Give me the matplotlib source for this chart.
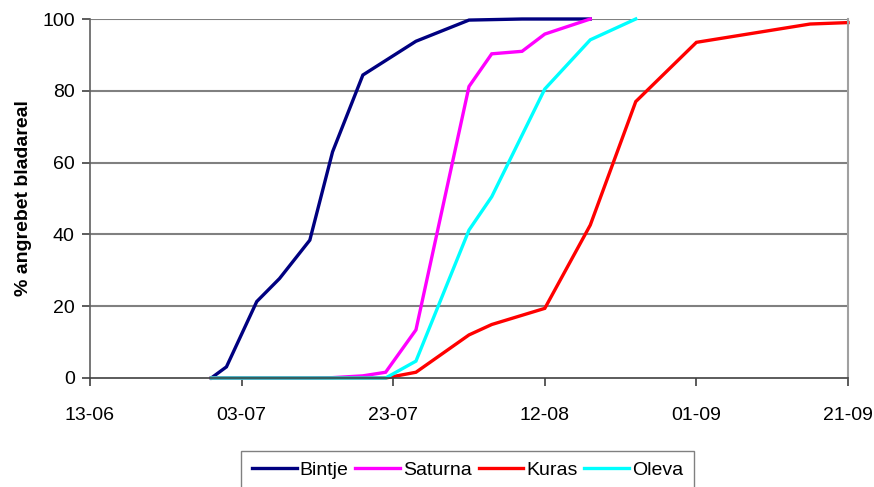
import matplotlib
matplotlib.use("Agg")
import matplotlib.pyplot as plt
import matplotlib.dates as mdates
import pandas as pd

plt.rcParams['font.family'] = ['Liberation Sans', 'DejaVu Sans']

bintje_dates = ['2000-06-29', '2000-07-01', '2000-07-05', '2000-07-08', '2000-07-12',
                '2000-07-15', '2000-07-19', '2000-07-26', '2000-08-02', '2000-08-09', '2000-08-18']
bintje_vals = [0, 3.1, 21.3, 27.7, 38.4, 63, 84.4, 93.8, 99.7, 100, 100]

saturna_dates = ['2000-06-29', '2000-07-12', '2000-07-15', '2000-07-19', '2000-07-22', '2000-07-26',
                 '2000-08-02', '2000-08-05', '2000-08-09', '2000-08-12', '2000-08-18']
saturna_vals = [0, 0, 0.1, 0.6, 1.6, 13.4, 81.2, 90.3, 91.0, 95.8, 100]

kuras_dates = ['2000-06-29', '2000-07-22', '2000-07-26', '2000-08-02', '2000-08-05', '2000-08-12',
               '2000-08-18', '2000-08-24', '2000-09-01', '2000-09-16', '2000-09-21']
kuras_vals = [0, 0, 1.6, 12.0, 14.9, 19.4, 42.6, 77.0, 93.5, 98.6, 99.0]

oleva_dates = ['2000-06-29', '2000-07-22', '2000-07-26', '2000-08-02', '2000-08-05', '2000-08-12',
               '2000-08-18', '2000-08-24']
oleva_vals = [0, 0, 4.7, 41.2, 50.5, 80.5, 94.2, 100]

tick_dates = ['2000-06-13', '2000-07-03', '2000-07-23', '2000-08-12', '2000-09-01', '2000-09-21']
y_ticks = [0, 20, 40, 60, 80, 100]

series = [
    ('Bintje', bintje_dates, bintje_vals, '#000080'),
    ('Saturna', saturna_dates, saturna_vals, '#FF00FF'),
    ('Kuras', kuras_dates, kuras_vals, '#FF0000'),
    ('Oleva', oleva_dates, oleva_vals, '#00FFFF'),
]

fig = plt.figure(figsize=(8.74, 4.87), dpi=100)
ax = fig.add_axes([90/874, 1-378/487, (848-90)/874, (378-19)/487])

for name, d, v, c in series:
    ax.plot(pd.to_datetime(d), v, color=c, lw=2.4, label=name, solid_joinstyle='miter', clip_on=False)

ticks = pd.to_datetime(tick_dates)
ax.set_xlim(ticks[0], ticks[-1])
ax.set_ylim(0, 100)
ax.set_xticks(ticks)
ax.xaxis.set_major_formatter(mdates.DateFormatter('%d-%m'))
ax.set_yticks(y_ticks)
for y in y_ticks[1:]:
    ax.axhline(y, color='#808080', lw=1.5, zorder=0)

ax.spines['top'].set_visible(False)
ax.spines['right'].set_color('#a0a0a0')
ax.spines['right'].set_linewidth(1.5)
ax.spines['left'].set_color('#606060')
ax.spines['bottom'].set_color('#404040')
ax.spines['left'].set_linewidth(1.2)
ax.spines['bottom'].set_linewidth(1.2)
ax.tick_params(axis='both', direction='out', length=6, width=1.2, color='#404040',
               labelsize=14)
ax.tick_params(axis='x', pad=15)
ax.tick_params(axis='y', pad=5)

ax.set_ylabel('% angrebet bladareal', fontsize=14, fontweight='bold', labelpad=7)

leg = fig.legend(loc='upper center', bbox_to_anchor=(0.535, 0.074), ncol=4, frameon=True,
                 fontsize=14, handlelength=2.3, handletextpad=0.15, columnspacing=0.35,
                 borderpad=0.55, fancybox=False, borderaxespad=0)
leg.get_frame().set_edgecolor('#606060')
leg.get_frame().set_linewidth(1.0)

fig.savefig('out.png', dpi=100)
